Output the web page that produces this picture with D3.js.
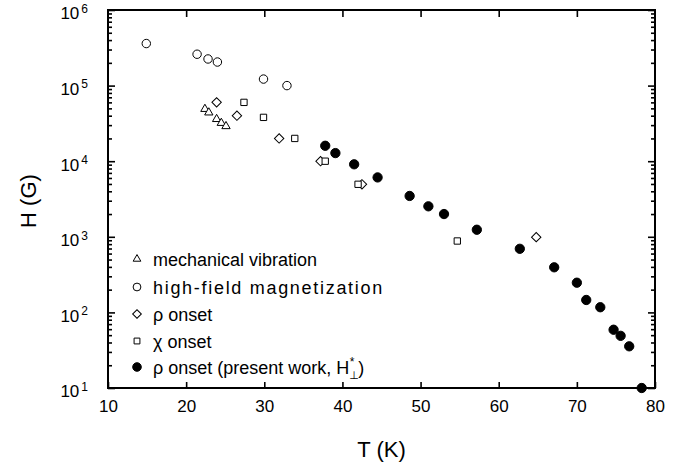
<!DOCTYPE html>
<html>
<head>
<meta charset="utf-8">
<script src="https://cdn.jsdelivr.net/npm/d3@7"></script>
<style>
  html, body { margin: 0; padding: 0; background: #fff; }
  svg { display: block; font-family: "Liberation Sans", Arial, Helvetica, sans-serif; }
</style>
</head>
<body>
<svg id="chart" width="674" height="465"></svg>
<script>
// Critical field H versus temperature T
const mechT = [22.4, 22.9, 23.9, 24.5, 25.1];
const mechH = [4.9e4, 4.4e4, 3.6e4, 3.2e4, 2.9e4];

const magT = [14.9, 21.4, 22.8, 24.0, 29.9, 32.9];
const magH = [3.6e5, 2.6e5, 2.25e5, 2.05e5, 1.22e5, 1.0e5];

const rhoT = [23.9, 26.5, 31.9, 37.2, 42.5, 64.8];
const rhoH = [6.0e4, 4.0e4, 2.0e4, 1.0e4, 4.95e3, 9.9e2];

const chiT = [27.4, 29.9, 33.9, 37.8, 42.0, 54.7];
const chiH = [6.0e4, 3.8e4, 2.0e4, 1.0e4, 4.95e3, 8.8e2];

const presentT = [37.8, 39.1, 41.5, 44.5, 48.6, 51.0, 53.0, 57.2, 62.7, 67.1, 70.0, 71.2, 73.0, 74.7, 75.6, 76.7, 78.3];
const presentH = [1.6e4, 1.28e4, 9.1e3, 6.1e3, 3.47e3, 2.53e3, 2.0e3, 1.24e3, 694, 395, 247, 146, 117, 59, 49, 35.6, 10];

const xTicks = [10, 20, 30, 40, 50, 60, 70, 80];
const yExponents = [1, 2, 3, 4, 5, 6];

const legendLabels = [
  "mechanical vibration",
  "high-field magnetization",
  "ρ onset",
  "χ onset",
  "ρ onset (present work, H"
];

const svg = d3.select("#chart");
const plotLeft = 108, plotRight = 655, plotTop = 10, plotBottom = 388;

const x = d3.scaleLinear().domain([10, 80]).range([plotLeft, plotRight]);
const y = d3.scaleLog().domain([10, 1e6]).range([plotBottom, plotTop]);

const yMajor = yExponents.map(e => Math.pow(10, e));
const yMinor = [];
for (let e = 1; e < 6; e++) for (let m = 2; m <= 9; m++) yMinor.push(m * Math.pow(10, e));

function styleAxis(g) {
  g.select(".domain").remove();
  g.selectAll(".tick line").attr("stroke", "#000").attr("stroke-width", 1.6);
}

// bottom axis with labels
svg.append("g")
  .attr("transform", `translate(0,${plotBottom})`)
  .call(d3.axisBottom(x).tickValues(xTicks).tickSizeInner(-6).tickSizeOuter(0).tickPadding(12).tickFormat(d3.format("d")))
  .call(styleAxis)
  .call(g => g.selectAll("text").attr("font-size", 17).attr("fill", "#000")
    .attr("font-family", "Liberation Sans, Arial, sans-serif"));

// top axis
svg.append("g")
  .attr("transform", `translate(0,${plotTop})`)
  .call(d3.axisTop(x).tickValues(xTicks.slice(1, -1)).tickSizeInner(-7).tickSizeOuter(0).tickFormat(""))
  .call(styleAxis);

// left axis: minor ticks, then major ticks with power labels
svg.append("g")
  .attr("transform", `translate(${plotLeft},0)`)
  .call(d3.axisLeft(y).tickValues(yMinor).tickSizeInner(-4).tickSizeOuter(0).tickFormat(""))
  .call(styleAxis);

svg.append("g")
  .attr("transform", `translate(${plotLeft},0)`)
  .call(d3.axisLeft(y).tickValues(yMajor).tickSizeInner(-7).tickSizeOuter(0).tickPadding(20).tickFormat(""))
  .call(styleAxis)
  .call(g => g.selectAll(".tick text").each(function (d) {
    const t = d3.select(this).attr("font-size", 17).attr("fill", "#000").attr("dy", "0.52em")
      .attr("font-family", "Liberation Sans, Arial, sans-serif");
    t.append("tspan").text("10");
    t.append("tspan").attr("font-size", 12).attr("dx", 2).attr("dy", -6.5).text(Math.round(Math.log10(d)));
  }));

// right axis
svg.append("g")
  .attr("transform", `translate(${plotRight},0)`)
  .call(d3.axisRight(y).tickValues(yMinor).tickSizeInner(-4).tickSizeOuter(0).tickFormat(""))
  .call(styleAxis);
svg.append("g")
  .attr("transform", `translate(${plotRight},0)`)
  .call(d3.axisRight(y).tickValues(yMajor).tickSizeInner(-7).tickSizeOuter(0).tickFormat(""))
  .call(styleAxis);

// frame
svg.append("rect")
  .attr("x", plotLeft).attr("y", plotTop)
  .attr("width", plotRight - plotLeft).attr("height", plotBottom - plotTop)
  .attr("fill", "none").attr("stroke", "#000").attr("stroke-width", 2);

// axis titles
svg.append("text")
  .attr("x", (plotLeft + plotRight) / 2).attr("y", 457)
  .attr("text-anchor", "middle").attr("font-size", 22).text("T (K)");
svg.append("text")
  .attr("transform", "translate(36,201) rotate(-90)")
  .attr("text-anchor", "middle").attr("font-size", 22).text("H (G)");

// marker shapes
const shapes = [
  { type: d3.symbolTriangle, size: 30, rot: 0, fill: "#fff" },
  { type: d3.symbolCircle, size: 56, rot: 0, fill: "#fff" },
  { type: d3.symbolSquare, size: 44, rot: 45, fill: "#fff" },
  { type: d3.symbolSquare, size: 40, rot: 0, fill: "#fff" },
  { type: d3.symbolCircle, size: 68, rot: 0, fill: "#000" }
];

const seriesList = [
  [mechT, mechH],
  [magT, magH],
  [rhoT, rhoH],
  [chiT, chiH],
  [presentT, presentH]
];

seriesList.forEach(([ts, hs], i) => {
  const s = shapes[i];
  const pts = ts.map((t, j) => ({ t, h: hs[j] }));
  svg.append("g").selectAll("path").data(pts).join("path")
    .attr("d", d3.symbol().type(s.type).size(s.size))
    .attr("transform", d => `translate(${x(d.t)},${y(d.h)}) rotate(${s.rot})`)
    .attr("fill", s.fill).attr("stroke", "#000").attr("stroke-width", 1);
});

// legend
const legendRows = [259, 287, 314, 341, 367];
const legend = svg.append("g");
legendLabels.forEach((label, i) => {
  const s = shapes[i];
  legend.append("path")
    .attr("d", d3.symbol().type(s.type).size(s.size * 0.85))
    .attr("transform", `translate(137,${legendRows[i]}) rotate(${s.rot})`)
    .attr("fill", s.fill).attr("stroke", "#000").attr("stroke-width", 1);
  const base = legendRows[i] + 7;
  const txt = legend.append("text")
    .attr("x", 153).attr("y", base)
    .attr("font-size", 18).attr("fill", "#000")
    .text(label);
  if (i === 1) txt.attr("letter-spacing", 1.7);
  if (i === 4) {
    // H*⊥ : star raised, perpendicular sign lowered, then the closing bracket
    const endX = 153 + txt.node().getComputedTextLength();
    legend.append("text").attr("x", endX + 0.5).attr("y", base - 8)
      .attr("font-size", 12).attr("fill", "#000").text("*");
    legend.append("text").attr("x", endX).attr("y", base + 5)
      .attr("font-size", 11).attr("fill", "#000")
      .attr("font-family", "DejaVu Sans, sans-serif").text("⊥");
    legend.append("text").attr("x", endX + 9).attr("y", base)
      .attr("font-size", 18).attr("fill", "#000").text(")");
  }
});
</script>
</body>
</html>
